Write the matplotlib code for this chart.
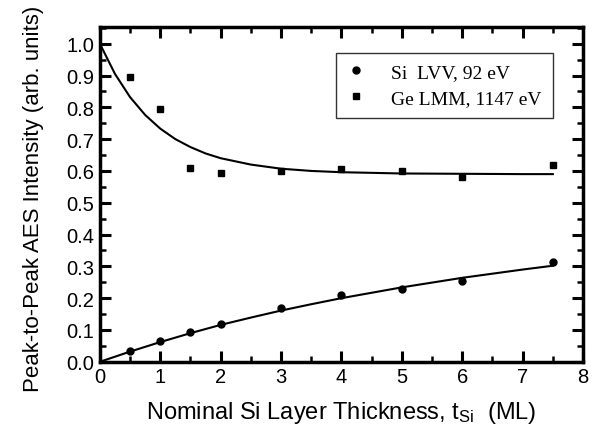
import matplotlib
matplotlib.use("Agg")
import matplotlib.pyplot as plt
from matplotlib.ticker import MultipleLocator

plt.rcParams['font.family'] = ['Liberation Sans', 'DejaVu Sans']
plt.rcParams['mathtext.default'] = 'regular'

# measured points
x_pts = [0.5, 1, 1.5, 2, 3, 4, 5, 6, 7.5]
si_lvv = [0.035, 0.065, 0.095, 0.12, 0.17, 0.21, 0.23, 0.255, 0.315]
ge_lmm = [0.895, 0.795, 0.61, 0.595, 0.60, 0.605, 0.60, 0.58, 0.62]

# fit curves
x_fit = [0, 0.25, 0.5, 0.75, 1, 1.25, 1.5, 1.75, 2, 2.5, 3, 3.5, 4, 5, 6, 7, 7.5]
si_fit = [0.0, 0.016, 0.032, 0.047, 0.062, 0.076, 0.090, 0.103, 0.116, 0.139,
          0.161, 0.181, 0.200, 0.234, 0.264, 0.290, 0.302]
ge_fit = [1.0, 0.905, 0.832, 0.776, 0.733, 0.700, 0.675, 0.655, 0.640, 0.620,
          0.607, 0.600, 0.596, 0.592, 0.591, 0.590, 0.590]

fig = plt.figure(figsize=(5.98, 4.35), dpi=100)
ax = fig.add_axes([0.167, 0.166, 0.808, 0.770])

ax.plot(x_fit, si_fit, color='black', lw=1.5)
ax.plot(x_fit, ge_fit, color='black', lw=1.5)
ax.plot(x_pts, si_lvv, 'o', color='black', ms=5, label='Si  LVV, 92 eV')
ax.plot(x_pts, ge_lmm, 's', color='black', ms=5, label='Ge LMM, 1147 eV')

ax.set_xlim(0, 8)
ax.set_ylim(0, 1.053)
ax.xaxis.set_major_locator(MultipleLocator(1))
ax.xaxis.set_minor_locator(MultipleLocator(0.5))
ax.yaxis.set_major_locator(MultipleLocator(0.1))
ax.yaxis.set_minor_locator(MultipleLocator(0.05))
ax.yaxis.set_major_formatter(matplotlib.ticker.FormatStrFormatter('%.1f'))

for s in ax.spines.values():
    s.set_linewidth(2.5)
ax.tick_params(which='both', direction='in', top=True, right=True, labelsize=14.5)
ax.tick_params(which='major', length=8, width=2.2, pad=4)
ax.tick_params(which='minor', length=4, width=1.8)

ax.set_xlabel('Nominal Si Layer Thickness, t$_{Si}$  (ML)', fontsize=17, labelpad=9)
ax.set_ylabel('Peak-to-Peak AES Intensity (arb. units)', fontsize=16)
ax.yaxis.set_label_coords(-0.115, 0.49)

leg = ax.legend(loc='upper right', bbox_to_anchor=(0.945, 0.935), frameon=True,
                fancybox=False, edgecolor='black', handlelength=1.0,
                handletextpad=1.3, prop={'family': 'Liberation Serif', 'size': 14},
                borderpad=0.55, borderaxespad=0.2, labelspacing=0.45)
leg.get_frame().set_linewidth(1.0)

fig.savefig('out.png', dpi=100)
